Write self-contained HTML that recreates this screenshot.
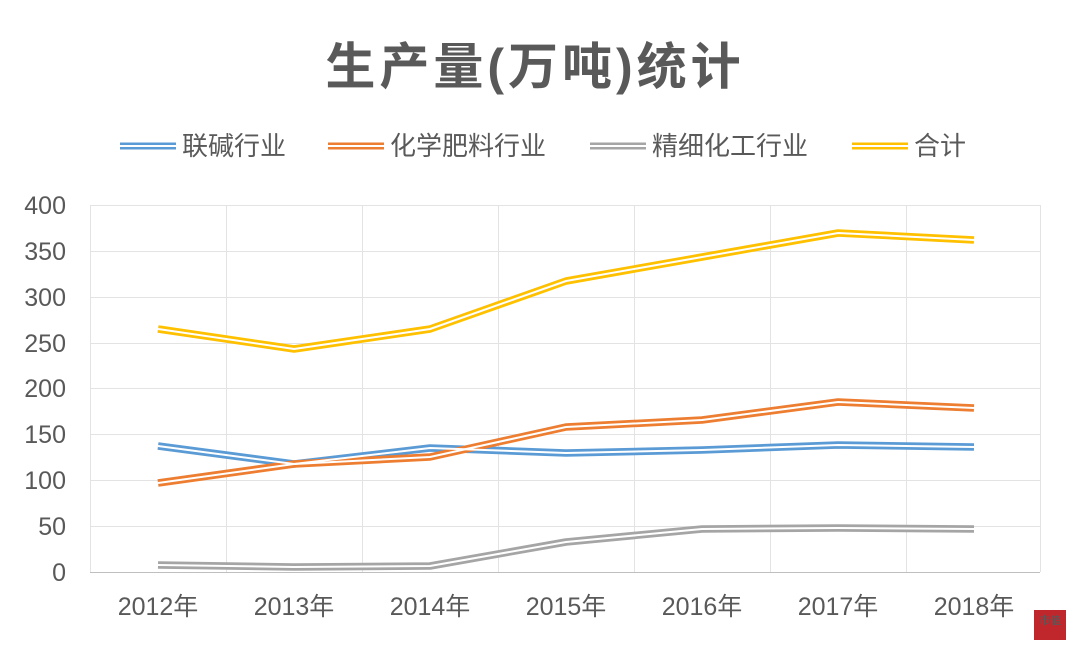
<!DOCTYPE html>
<html><head><meta charset="utf-8"><style>
body{margin:0;background:#fff;}
text{font-family:"Liberation Sans","Noto Sans CJK SC",sans-serif;fill:#595959;}
</style></head><body>
<svg width="1080" height="656" viewBox="0 0 1080 656" xmlns="http://www.w3.org/2000/svg">
<rect width="1080" height="656" fill="#fff"/>
<text x="535" y="84" font-size="50" font-weight="bold" text-anchor="middle" letter-spacing="4" fill="#6b6b6b">生产量(万吨)统计</text>
<g font-size="26">
<g stroke-width="7"><line x1="120" y1="146" x2="176" y2="146" stroke="#5b9bd5"/><line x1="328" y1="146" x2="384" y2="146" stroke="#ed7d31"/><line x1="590" y1="146" x2="646" y2="146" stroke="#a5a5a5"/><line x1="852" y1="146" x2="908" y2="146" stroke="#ffc000"/></g>
<g stroke-width="2" stroke="#fff"><line x1="120" y1="146" x2="176" y2="146"/><line x1="328" y1="146" x2="384" y2="146"/><line x1="590" y1="146" x2="646" y2="146"/><line x1="852" y1="146" x2="908" y2="146"/></g>
<text x="182" y="155">联碱行业</text><text x="390" y="155">化学肥料行业</text><text x="652" y="155">精细化工行业</text><text x="914" y="155">合计</text>
</g>
<g stroke="#e3e3e3" stroke-width="1">
<line x1="90" y1="205.5" x2="1040" y2="205.5"/><line x1="90" y1="251.5" x2="1040" y2="251.5"/><line x1="90" y1="297.5" x2="1040" y2="297.5"/><line x1="90" y1="343.5" x2="1040" y2="343.5"/><line x1="90" y1="388.5" x2="1040" y2="388.5"/><line x1="90" y1="434.5" x2="1040" y2="434.5"/><line x1="90" y1="480.5" x2="1040" y2="480.5"/><line x1="90" y1="526.5" x2="1040" y2="526.5"/>
<line x1="90.5" y1="205" x2="90.5" y2="572"/><line x1="226.5" y1="205" x2="226.5" y2="572"/><line x1="362.5" y1="205" x2="362.5" y2="572"/><line x1="498.5" y1="205" x2="498.5" y2="572"/><line x1="634.5" y1="205" x2="634.5" y2="572"/><line x1="770.5" y1="205" x2="770.5" y2="572"/><line x1="906.5" y1="205" x2="906.5" y2="572"/><line x1="1040.5" y1="205" x2="1040.5" y2="572"/>
</g>
<line x1="90" y1="572.5" x2="1040" y2="572.5" stroke="#bfbfbf"/>
<g font-size="25" text-anchor="end">
<text x="66" y="214">400</text><text x="66" y="260">350</text><text x="66" y="306">300</text><text x="66" y="352">250</text><text x="66" y="397">200</text><text x="66" y="443">150</text><text x="66" y="489">100</text><text x="66" y="535">50</text><text x="66" y="581">0</text>
</g>
<g font-size="25" text-anchor="middle">
<text x="158" y="615">2012年</text><text x="294" y="615">2013年</text><text x="430" y="615">2014年</text><text x="566" y="615">2015年</text><text x="702" y="615">2016年</text><text x="838" y="615">2017年</text><text x="974" y="615">2018年</text>
</g>
<g fill="none" stroke-width="7.5" stroke-linejoin="round">
<polyline stroke="#5b9bd5" points="158,446 294,464 430,448 566,453 702,450 838,445 974,447"/>
<polyline stroke="#ed7d31" points="158,483 294,464 430,457 566,427 702,420 838,402 974,408"/>
<polyline stroke="#a5a5a5" points="158,565 294,567 430,566 566,542 702,529 838,528 974,529"/>
<polyline stroke="#ffc000" points="158,329 294,349 430,329 566,281 702,257 838,233 974,240"/>
</g>
<g fill="none" stroke-width="2" stroke="#fff" stroke-linejoin="round">
<polyline points="158,446 294,464 430,448 566,453 702,450 838,445 974,447"/>
<polyline points="158,483 294,464 430,457 566,427 702,420 838,402 974,408"/>
<polyline points="158,565 294,567 430,566 566,542 702,529 838,528 974,529"/>
<polyline points="158,329 294,349 430,329 566,281 702,257 838,233 974,240"/>
</g>
<rect x="1034" y="610" width="32" height="30" fill="#c0272d"/>
<text x="1050" y="624" font-size="11" text-anchor="middle" fill="#fff">市值</text>
</svg>
</body></html>
